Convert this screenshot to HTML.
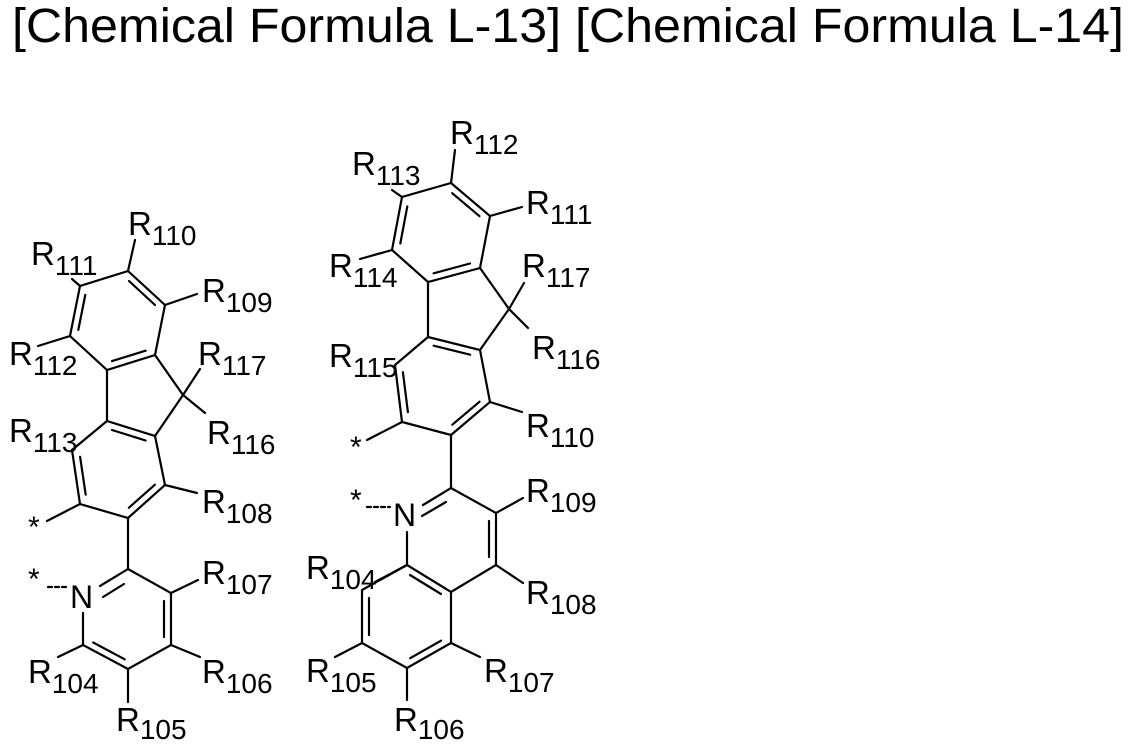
<!DOCTYPE html>
<html><head><meta charset="utf-8"><style>
html,body{margin:0;padding:0;background:#fff;}
svg{display:block;}
text{font-family:"Liberation Sans",Arial,sans-serif;fill:#000;}
</style></head><body>
<svg width="1134" height="744" viewBox="0 0 1134 744" xmlns="http://www.w3.org/2000/svg">
<text x="12" y="42" font-size="48" textLength="1112" lengthAdjust="spacingAndGlyphs">[Chemical Formula L-13] [Chemical Formula L-14]</text>
<g stroke="#000" stroke-width="2.2" fill="none" stroke-linecap="round">
<polyline points="128,271 165,305 155,355 107,370 70,336 80,286 128,271"/>
<line x1="129" y1="281" x2="155" y2="305"/>
<line x1="145.6" y1="350.7" x2="112" y2="361.1"/>
<line x1="78.3" y1="329.9" x2="85.3" y2="294.9"/>
<line x1="107" y1="370" x2="107" y2="421"/>
<line x1="155" y1="355" x2="183" y2="395"/>
<line x1="183" y1="395" x2="155" y2="436"/>
<polyline points="107,421 155,436 165,485 128,518 80,504 72,450 107,421"/>
<line x1="112" y1="430" x2="145.6" y2="440.5"/>
<line x1="154.9" y1="484.7" x2="128.9" y2="507.7"/>
<line x1="85.7" y1="494.6" x2="80.1" y2="456.8"/>
<line x1="128" y1="271" x2="135" y2="240"/>
<line x1="165" y1="305" x2="197" y2="294"/>
<line x1="80" y1="286" x2="72" y2="279"/>
<line x1="70" y1="336" x2="38" y2="346"/>
<line x1="183" y1="395" x2="200" y2="369"/>
<line x1="183" y1="395" x2="205" y2="413"/>
<line x1="165" y1="485" x2="197" y2="493"/>
<line x1="80" y1="504" x2="47" y2="521"/>
<line x1="128" y1="518" x2="128" y2="569"/>
<polyline points="100,586 128,569 171,593 171,645 128,669 83,645 83,613"/>
<line x1="103" y1="597" x2="124" y2="584"/>
<line x1="164" y1="601" x2="164" y2="637"/>
<line x1="93.2" y1="642.5" x2="124.7" y2="659.3"/>
<line x1="171" y1="593" x2="198" y2="580"/>
<line x1="171" y1="645" x2="200" y2="657"/>
<line x1="128" y1="669" x2="128" y2="702"/>
<line x1="83" y1="645" x2="58" y2="657"/>
<line x1="48" y1="587" x2="68" y2="587" stroke-dasharray="4,3"/>

<polyline points="451,183 490,216 480,268 428,282 392,250 402,197 451,183"/>
<line x1="452.2" y1="193.2" x2="479.5" y2="216.2"/>
<line x1="470" y1="263.5" x2="433.6" y2="273.3"/>
<line x1="400.3" y1="243.5" x2="407.3" y2="206.5"/>
<line x1="428" y1="282" x2="428" y2="337"/>
<line x1="480" y1="268" x2="509" y2="309"/>
<line x1="509" y1="309" x2="480" y2="350"/>
<polyline points="428,337 480,350 490,402 451,435 402,422 395,365 428,337"/>
<line x1="433.7" y1="345.7" x2="470.1" y2="354.7"/>
<line x1="479.6" y1="401.7" x2="452.3" y2="424.7"/>
<line x1="407.9" y1="412.1" x2="402.9" y2="372.2"/>
<line x1="451" y1="183" x2="455" y2="150"/>
<line x1="490" y1="216" x2="522" y2="207"/>
<line x1="402" y1="197" x2="392" y2="190"/>
<line x1="392" y1="250" x2="360" y2="259"/>
<line x1="509" y1="309" x2="524" y2="283"/>
<line x1="509" y1="309" x2="528" y2="328"/>
<line x1="490" y1="402" x2="522" y2="412"/>
<line x1="402" y1="422" x2="367" y2="440"/>
<line x1="451" y1="435" x2="451" y2="488"/>
<polyline points="423,505 451,488 496,513 496,565 451,592 407,565 407,532"/>
<line x1="422" y1="516" x2="446" y2="502"/>
<line x1="489" y1="521" x2="489" y2="557"/>
<line x1="410" y1="575" x2="441" y2="594"/>
<polyline points="407,565 362,590 362,643 407,668 451,643 451,592"/>
<line x1="369" y1="598" x2="369" y2="635"/>
<line x1="410.2" y1="658.2" x2="441" y2="640.7"/>
<line x1="496" y1="513" x2="523" y2="498"/>
<line x1="496" y1="565" x2="523" y2="583"/>
<line x1="451" y1="643" x2="480" y2="657"/>
<line x1="407" y1="668" x2="407" y2="700"/>
<line x1="362" y1="643" x2="335" y2="657"/>
<line x1="407" y1="565" x2="375" y2="582"/>
<line x1="367" y1="507" x2="390" y2="507" stroke-dasharray="4,3"/>
</g>
<g font-size="33">
<text x="70" y="608" font-size="32">N</text>
<text x="393" y="526" font-size="32">N</text>
<text x="28" y="537" font-size="30">*</text>
<text x="28" y="589" font-size="30">*</text>
<text x="350" y="457" font-size="30">*</text>
<text x="350" y="510" font-size="30">*</text>

<text x="128" y="235">R<tspan dy="10" font-size="28">110</tspan></text>
<text x="31" y="265">R<tspan dy="10" font-size="28">111</tspan></text>
<text x="202" y="302">R<tspan dy="10" font-size="28">109</tspan></text>
<text x="9" y="365">R<tspan dy="10" font-size="28">112</tspan></text>
<text x="198" y="365">R<tspan dy="10" font-size="28">117</tspan></text>
<text x="207" y="444">R<tspan dy="10" font-size="28">116</tspan></text>
<text x="9" y="442">R<tspan dy="10" font-size="28">113</tspan></text>
<text x="202" y="513">R<tspan dy="10" font-size="28">108</tspan></text>
<text x="202" y="584">R<tspan dy="10" font-size="28">107</tspan></text>
<text x="202" y="683">R<tspan dy="10" font-size="28">106</tspan></text>
<text x="28" y="683">R<tspan dy="10" font-size="28">104</tspan></text>
<text x="116" y="731">R<tspan dy="8" font-size="28">105</tspan></text>

<text x="450" y="144">R<tspan dy="10" font-size="28">112</tspan></text>
<text x="352" y="175">R<tspan dy="10" font-size="28">113</tspan></text>
<text x="526" y="214">R<tspan dy="10" font-size="28">111</tspan></text>
<text x="329" y="277">R<tspan dy="10" font-size="28">114</tspan></text>
<text x="522" y="277">R<tspan dy="10" font-size="28">117</tspan></text>
<text x="329" y="367">R<tspan dy="10" font-size="28">115</tspan></text>
<text x="532" y="359">R<tspan dy="10" font-size="28">116</tspan></text>
<text x="526" y="437">R<tspan dy="10" font-size="28">110</tspan></text>
<text x="526" y="502">R<tspan dy="10" font-size="28">109</tspan></text>
<text x="306" y="579">R<tspan dy="10" font-size="28">104</tspan></text>
<text x="526" y="604">R<tspan dy="10" font-size="28">108</tspan></text>
<text x="306" y="682">R<tspan dy="10" font-size="28">105</tspan></text>
<text x="484" y="682">R<tspan dy="10" font-size="28">107</tspan></text>
<text x="394" y="731">R<tspan dy="8" font-size="28">106</tspan></text>
</g>
</svg>
</body></html>
